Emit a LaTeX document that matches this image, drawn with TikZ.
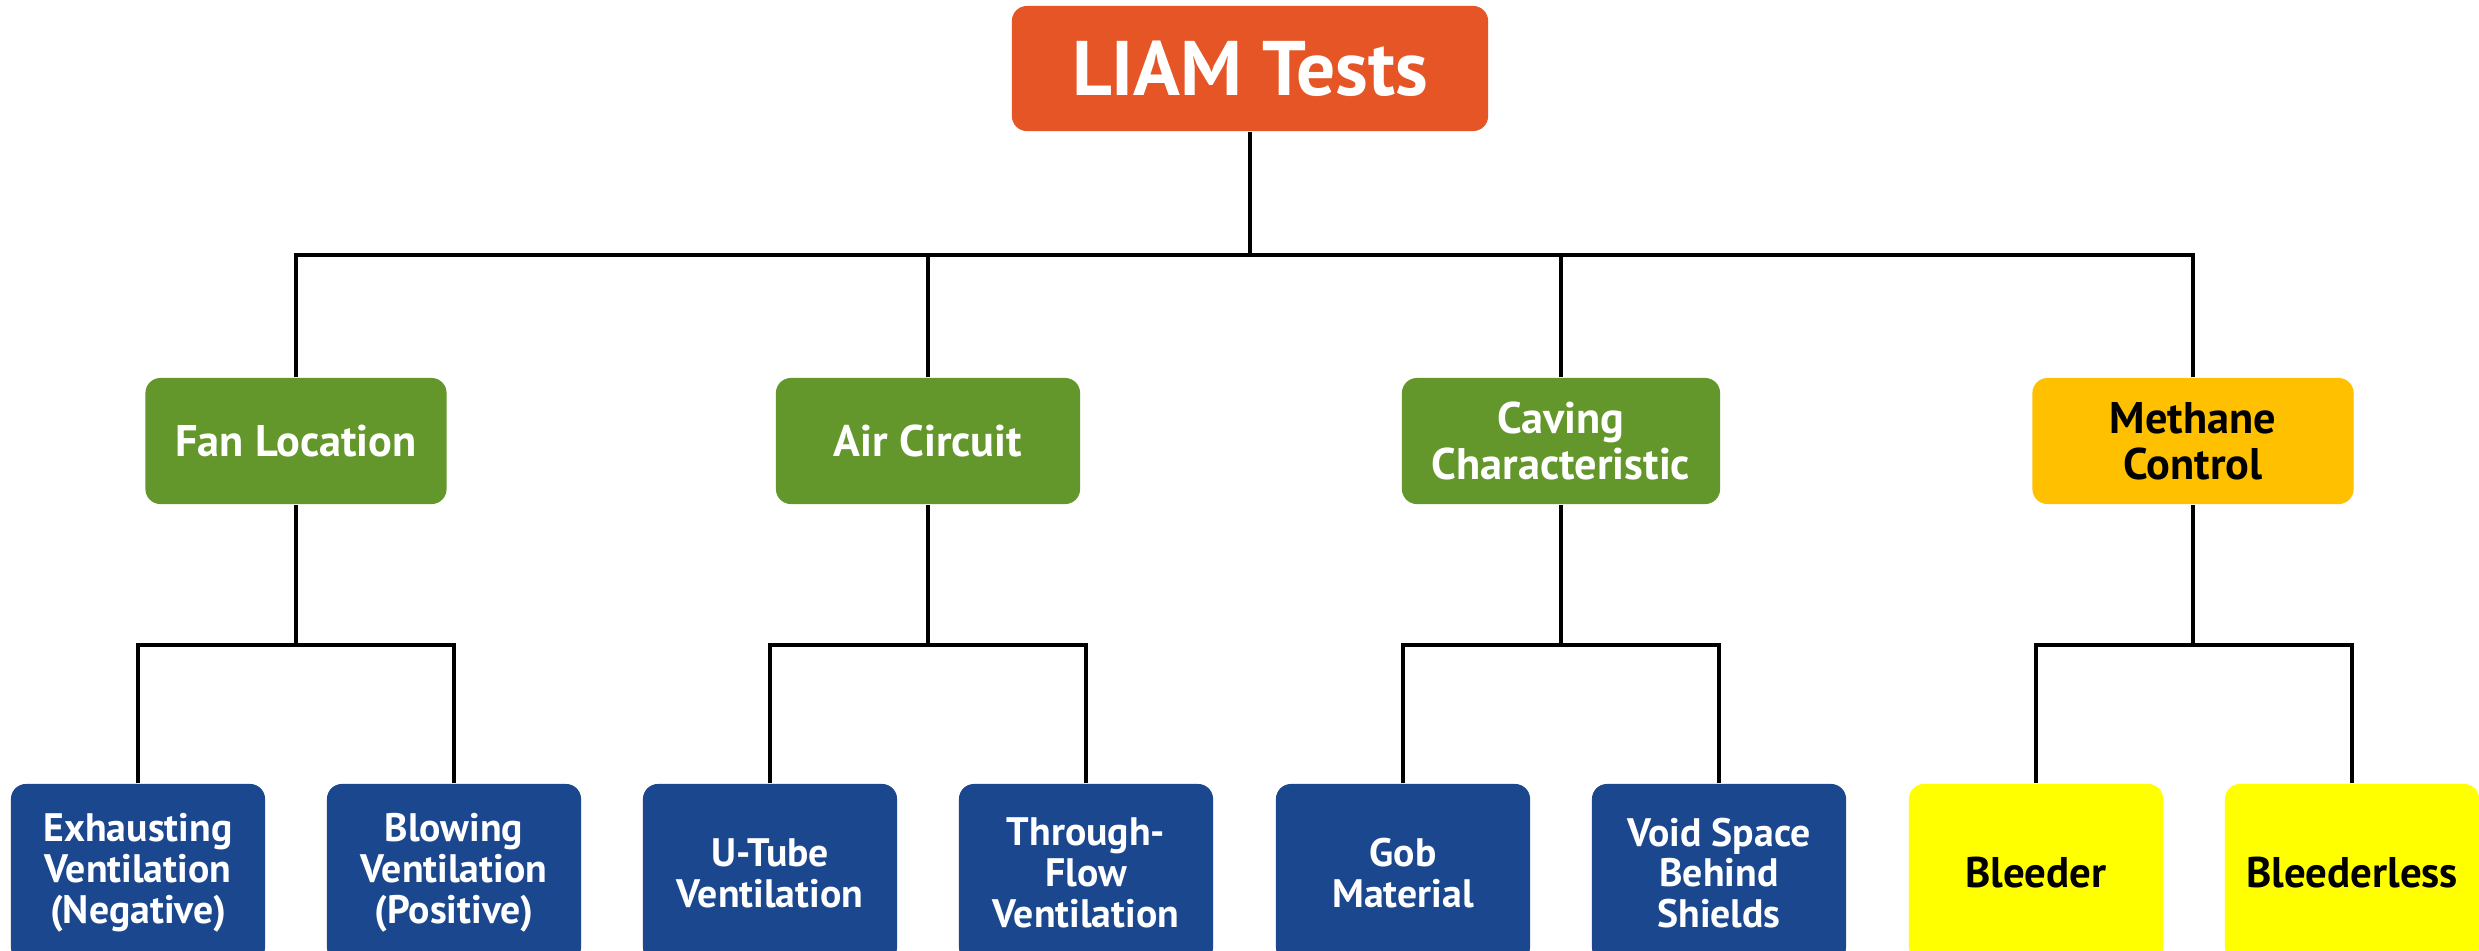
\documentclass[tikz,border=0pt]{standalone}
\usepackage{fontspec}
\setmainfont{PT Sans}
\definecolor{cOrange}{HTML}{E55525}
\definecolor{cGreen}{HTML}{63962B}
\definecolor{cAmber}{HTML}{FFC000}
\definecolor{cBlue}{HTML}{1B478E}
\definecolor{cYellow}{HTML}{FFFF00}
\tikzset{
  box/.style={rectangle, rounded corners=0.15cm, inner sep=0pt, align=center, font=\bfseries},
  topbox/.style={box, fill=cOrange, text=white, minimum width=4.76cm, minimum height=1.25cm, font=\bfseries\fontsize{22}{26}\selectfont},
  midbox/.style={box, fill=cGreen, text=white, minimum height=1.26cm, font=\bfseries\fontsize{12.6}{13.2}\selectfont},
  ambbox/.style={midbox, fill=cAmber, text=black},
  lowbox/.style={box, fill=cBlue, text=white, minimum width=2.54cm, minimum height=1.78cm, font=\bfseries\fontsize{11.3}{11.6}\selectfont},
  yelbox/.style={lowbox, fill=cYellow, text=black, font=\bfseries\fontsize{12.2}{12.5}\selectfont},
  link/.style={draw=black, line width=1.1pt}
}
\begin{document}
\begin{tikzpicture}[x=0.01cm, y=-0.01cm]
\useasboundingbox (0,0) rectangle (2479,950);
\clip (0,0) rectangle (2479,950);
\fill[white] (0,0) rectangle (2479,950);

\node[topbox] (top) at (1250,68.5) {LIAM Tests};

\node[midbox, minimum width=3.01cm] (fan) at (296,441) {Fan Location};
\node[midbox, minimum width=3.04cm] (air) at (928,441) {Air Circuit};
\node[midbox, minimum width=3.18cm] (cav) at (1561,441) {Caving\\Characteristic};
\node[ambbox, minimum width=3.21cm] (met) at (2193,441) {Methane\\Control};

\node[lowbox] (exh) at (138,873) {Exhausting\\Ventilation\\(Negative)};
\node[lowbox] (blo) at (454,873) {Blowing\\Ventilation\\(Positive)};
\node[lowbox] (utb) at (770,873) {U-Tube\\Ventilation};
\node[lowbox] (thr) at (1086,873) {Through-\\Flow\\Ventilation};
\node[lowbox] (gob) at (1403,873) {Gob\\Material};
\node[lowbox] (voi) at (1719,873) {Void Space\\Behind\\Shields};
\node[yelbox] (ble) at (2036,873) {Bleeder};
\node[yelbox] (bll) at (2352,873) {Bleederless};

\coordinate (bus) at (1250,255);
\coordinate (fanbus) at (296,645);
\coordinate (airbus) at (928,645);
\coordinate (cavbus) at (1561,645);
\coordinate (metbus) at (2193,645);

\draw[link] (top.south) -- (bus);
\draw[link] (fan.north) |- (bus);
\draw[link] (air.north) |- (bus);
\draw[link] (cav.north) |- (bus);
\draw[link] (met.north) |- (bus);

\draw[link] (fan.south) -- (fanbus);
\draw[link] (exh.north) |- (fanbus);
\draw[link] (blo.north) |- (fanbus);
\draw[link] (air.south) -- (airbus);
\draw[link] (utb.north) |- (airbus);
\draw[link] (thr.north) |- (airbus);
\draw[link] (cav.south) -- (cavbus);
\draw[link] (gob.north) |- (cavbus);
\draw[link] (voi.north) |- (cavbus);
\draw[link] (met.south) -- (metbus);
\draw[link] (ble.north) |- (metbus);
\draw[link] (bll.north) |- (metbus);
\end{tikzpicture}
\end{document}
